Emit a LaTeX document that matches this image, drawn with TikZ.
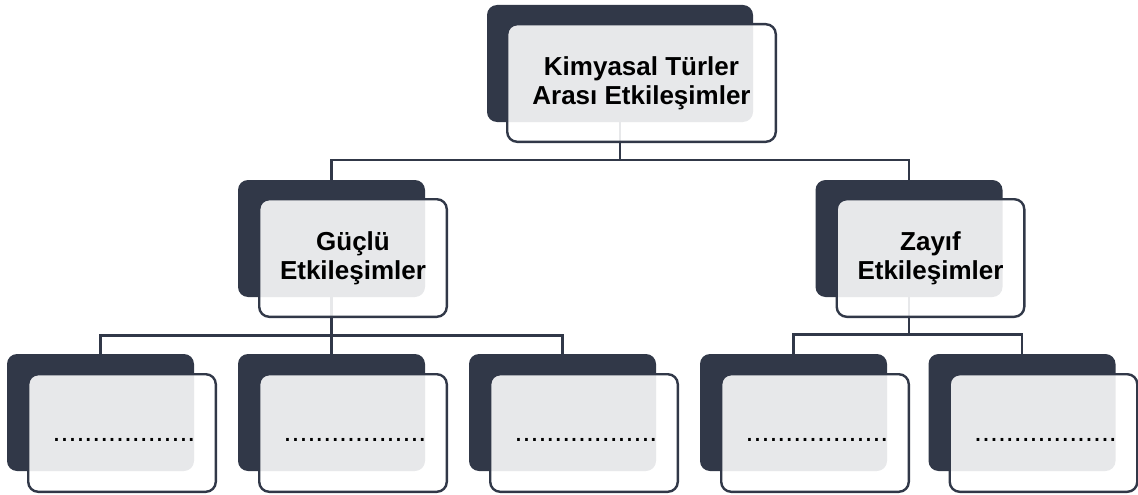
\documentclass[tikz,border=0pt]{standalone}
\usepackage{fontspec}
\setmainfont{Liberation Sans}
\definecolor{navy}{HTML}{313848}
\pgfdeclarelayer{background}
\pgfsetlayers{background,main}
\tikzset{
  darkbox/.style={draw=none, fill=navy, rounded corners=10pt, minimum height=117pt, inner sep=0pt},
  frontbox/.style={draw=navy, line width=2.4pt, fill=white, fill opacity=0.885, text opacity=1,
    rounded corners=10pt, minimum height=117.6pt, inner sep=0pt, align=center,
    font=\fontsize{26}{29}\selectfont\bfseries, text=black},
  dots/.style={anchor=base, inner sep=0pt, font=\fontsize{28.5}{30}\selectfont, text=black},
  conn/.style={draw=navy, line width=2.6pt},
}
\begin{document}
\begin{tikzpicture}[x=1pt, y=-1pt]
\useasboundingbox (0,0) rectangle (1138,495);
% bus coordinates
\coordinate (bus1) at (0,160);
\coordinate (bus2) at (0,335.5);
\coordinate (bus3) at (0,334.5);
% dark back boxes
\node[darkbox, minimum width=266pt] (topD) at (620,63.5) {};
\node[darkbox, minimum width=187pt] (gD) at (331.5,238.5) {};
\node[darkbox, minimum width=187pt] (zD) at (909,238.5) {};
\node[darkbox, minimum width=187pt] (b1D) at (100.5,412.5) {};
\node[darkbox, minimum width=187pt] (b2D) at (331.5,412.5) {};
\node[darkbox, minimum width=187pt] (b3D) at (562.5,412.5) {};
\node[darkbox, minimum width=187pt] (b4D) at (793.5,412.5) {};
\node[darkbox, minimum width=187pt] (b5D) at (1022,412.5) {};
% connectors (behind the boxes)
\begin{pgfonlayer}{background}
\draw[conn] (topD.center) -- (topD.center |- bus1);
\draw[conn] (gD.north) -- (gD.north |- bus1) -- (zD.north |- bus1) -- (zD.north);
\draw[conn] (gD.center) -- (gD.center |- bus2);
\draw[conn] (b1D.north) -- (b1D.north |- bus2) -- (b3D.north |- bus2) -- (b3D.north);
\draw[conn] (b2D.north) -- (b2D.center |- bus2);
\draw[conn] (zD.center) -- (zD.center |- bus3);
\draw[conn] (b4D.north) -- (b4D.north |- bus3) -- (b5D.north |- bus3) -- (b5D.north);
\end{pgfonlayer}
% front boxes
\node[frontbox, minimum width=268.6pt] (topF) at ([shift={(21.5,19.5)}]topD.center) {Kimyasal Türler\\Arası Etkileşimler};
\node[frontbox, minimum width=187.6pt] (gF) at ([shift={(21.5,19.5)}]gD.center) {Güçlü\\Etkileşimler};
\node[frontbox, minimum width=187.6pt] (zF) at ([shift={(21.5,19.5)}]zD.center) {Zayıf\\Etkileşimler};
\node[frontbox, minimum width=187.6pt] (b1F) at ([shift={(21.5,20.5)}]b1D.center) {};
\node[frontbox, minimum width=187.6pt] (b2F) at ([shift={(21.5,20.5)}]b2D.center) {};
\node[frontbox, minimum width=187.6pt] (b3F) at ([shift={(21.5,20.5)}]b3D.center) {};
\node[frontbox, minimum width=187.6pt] (b4F) at ([shift={(21.5,20.5)}]b4D.center) {};
\node[frontbox, minimum width=187.6pt] (b5F) at ([shift={(21.5,20.5)}]b5D.center) {};
% dotted placeholders
\foreach \b in {b1F,b2F,b3F,b4F,b5F}
  \node[dots] (\b t) at ([shift={(2,8.5)}]\b.center) {..................};
\end{tikzpicture}
\end{document}
